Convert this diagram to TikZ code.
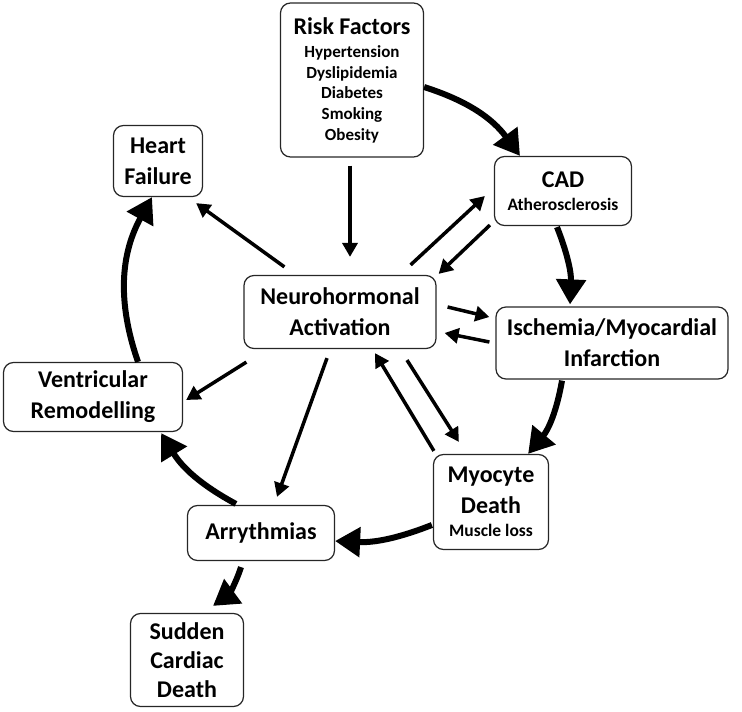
\documentclass[tikz,border=0pt]{standalone}
\usepackage{fontspec}
\setmainfont{Carlito}
\usetikzlibrary{arrows.meta}

\tikzset{
  box/.style={draw=black!85, line width=1.2pt, rounded corners=10pt, align=center,
    inner sep=2pt, font=\bfseries\fontsize{24}{31}\selectfont},
  cyc/.style={line width=6pt, bend left=18, -{Triangle[length=25pt,width=29pt]}},
  link/.style={line width=3.5pt, -{Triangle[length=14pt,width=15pt]}},
}
\newcommand{\subtxt}[1]{{\fontsize{17.5}{20}\selectfont #1}}

\begin{document}
\begin{tikzpicture}[x=1pt,y=-1pt]
\useasboundingbox (0,0) rectangle (742,712);

% boxes
\node[box, minimum width=143pt, minimum height=154pt, font=\bfseries\fontsize{17}{20.6}\selectfont] (risk) at (352,80)
  {{\fontsize{24}{24}\selectfont Risk Factors}\\[3pt] Hypertension\\ Dyslipidemia\\ Diabetes\\ Smoking\\ Obesity};
\node[box, minimum width=89pt, minimum height=71pt] (hf) at (158,161) {Heart\\ Failure};
\node[box, minimum width=137pt, minimum height=69pt] (cad) at (563,191) {CAD\\[-8pt] \subtxt{Atherosclerosis}};
\node[box, minimum width=192pt, minimum height=73pt] (neuro) at (340,312) {Neurohormonal\\ Activation};
\node[box, minimum width=232pt, minimum height=72pt] (isch) at (612,343) {Ischemia/Myocardial\\ Infarction};
\node[box, minimum width=179pt, minimum height=69pt] (vent) at (93,397) {Ventricular\\ Remodelling};
\node[box, minimum width=115pt, minimum height=95pt] (myo) at (491,502) {Myocyte\\ Death\\[-8pt] \subtxt{Muscle loss}};
\node[box, minimum width=147pt, minimum height=55pt] (arry) at (261,533) {Arrythmias};
\node[box, minimum width=113pt, minimum height=93pt] (scd) at (187,660) {Sudden\\[-2pt] Cardiac\\[-2pt] Death};

% main cycle
\draw[cyc] ([shift={(0,7)}]risk.east) to ([shift={(-43,0)}]cad.north);
\draw[cyc, bend left=12] ([shift={(-6,1)}]cad.south) to ([shift={(-42,-2)}]isch.north);
\draw[cyc, bend left=15] ([shift={(-50,1)}]isch.south) to ([shift={(-21,0)}]myo.north east);
\draw[cyc, bend left=12] ([shift={(-1,23)}]myo.west) to ([shift={(0,8)}]arry.east);
\draw[cyc, bend left=15] ([shift={(49,-1)}]arry.north west) to ([shift={(-22,1)}]vent.south east);
\draw[cyc, bend left=24] ([shift={(45,0)}]vent.north) to ([shift={(-6,0)}]hf.south);
\draw[cyc] ([shift={(-20,6)}]arry.south) to ([shift={(26,-7)}]scd.north);

% neurohormonal links
\draw[link] ([shift={(-2,8)}]risk.south) -- ([shift={(10,-18)}]neuro.north);
\draw[link] ([shift={(41,-8)}]neuro.north west) -- ([shift={(-7,6)}]hf.south east);
\draw[link] ([shift={(-26,-10)}]neuro.north east) -- ([shift={(-9,5)}]cad.west);
\draw[link] ([shift={(-4,-1)}]cad.south west) -- ([shift={(2,-1)}]neuro.north east);
\draw[link] ([shift={(11,-5)}]neuro.east) -- ([shift={(-6,-26)}]isch.west);
\draw[link] ([shift={(-6,-1)}]isch.west) -- ([shift={(8,21)}]neuro.east);
\draw[link] ([shift={(1,-3)}]myo.north west) -- ([shift={(35,4)}]neuro.south);
\draw[link] ([shift={(67,11)}]neuro.south) -- ([shift={(26,-12)}]myo.north west);
\draw[link] ([shift={(3,13)}]neuro.south west) -- ([shift={(3,3)}]vent.east);
\draw[link] ([shift={(-13,9)}]neuro.south) -- ([shift={(16,-8)}]arry.north);
\end{tikzpicture}
\end{document}
